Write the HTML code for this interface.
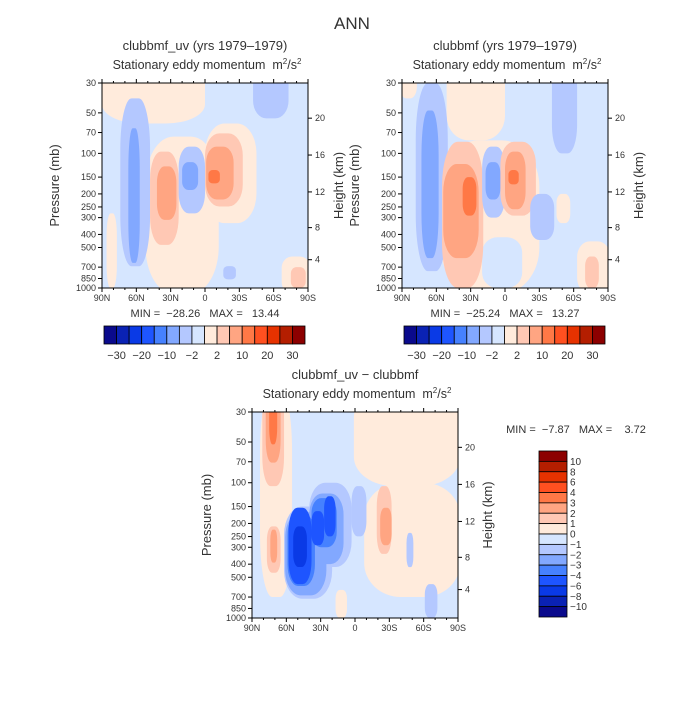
<!DOCTYPE html>
<html><head><meta charset="utf-8">
<style>
body{margin:0;background:#fff;}
svg text{font-family:"Liberation Sans",sans-serif;fill:#333;white-space:pre;}
</style></head>
<body>
<svg id="fig" width="700" height="700" viewBox="0 0 700 700" xmlns="http://www.w3.org/2000/svg">
<rect width="700" height="700" fill="#fff"/>
<text x="352" y="29" font-size="17" text-anchor="middle">ANN</text>
</svg>
<script>
const colors=["#0a0a8c","#0a22b4","#0a3ae6","#1e55ff","#4681ff","#82a8ff","#b4c8ff","#d6e6ff","#ffebdc","#ffc8b4","#ffa582","#ff7846","#ff5020","#e63200","#b41e00","#8c0000"];
const latTicks=[90,60,30,0,-30,-60,-90];
const latLabels=["90N","60N","30N","0","30S","60S","90S"];
const pTicks=[30,50,70,100,150,200,250,300,400,500,700,850,1000];
const kmTicks=[4,8,12,16,20];
const cbLabelsH=["-30","-20","-10","-2","2","10","20","30"];
const cbLabelsV=["10","8","6","4","3","2","1","0","-1","-2","-3","-4","-6","-8","-10"];
// blobs: [lat1, lat2, pTop, pBottom, level]
const blobs1=[[90,0,20,60,8],[52,-12,75,1100,8],[0,-45,60,330,8],[86,77,279,1000,8],[74,48,39,690,6],[67,57,65,650,5],[48,23,97,478,9],[42,25,125,312,10],[23,0,89,279,6],[20,6,116,187,5],[0,-33,71,248,9],[-1,-25,89,220,10],[-3,-13,133,167,11],[-42,-73,20,55,6],[-67,-92,583,1100,8],[-75,-88,700,1000,9],[-16,-27,688,863,6]];
const blobs2=[[92,77,20,39,8],[51,0,20,80,8],[56,-30,80,1100,8],[20,-15,420,1000,7],[78,50,30,750,6],[73,58,48,600,5],[55,19,82,1000,9],[54,23,120,600,10],[37,25,150,290,11],[20,0,89,300,6],[17,4,116,220,5],[4,-27,82,290,9],[0,-18,97,260,10],[-3,-12,133,170,11],[-41,-63,20,100,6],[-22,-43,200,440,6],[-63,-92,450,1100,8],[-70,-82,583,1000,9],[-45,-57,200,330,8]];
const blobs3=[[1,-92,20,106,8],[-8,-92,100,700,8],[83,55,20,700,8],[81,62,20,106,9],[78,65,20,71,10],[75,68,20,52,11],[77,65,210,463,9],[74,68,222,390,10],[62,20,150,720,6],[40,3,100,420,6],[61,25,165,680,5],[40,10,120,400,5],[59,35,170,580,4],[38,16,130,300,4],[58,38,153,562,3],[38,27,162,290,3],[27,17,126,249,3],[54,42,210,420,2],[-19,-32,106,336,9],[-22,-32,153,290,10],[-45,-51,235,421,6],[-61,-72,562,1000,6],[3,-10,106,249,6],[17,7,619,1000,8]];

const NS="http://www.w3.org/2000/svg";
const svg=document.getElementById('fig');
function mk(tag,attrs,parent){const e=document.createElementNS(NS,tag);for(const k in attrs)e.setAttribute(k,attrs[k]);(parent||svg).appendChild(e);return e;}
function txt(x,y,s,size,anchor,parent){const t=mk('text',{x:x,y:y,'font-size':size,'text-anchor':anchor||'middle'},parent);t.textContent=s;return t;}
function kmToP(z){const m=z*1000;if(m<=11000)return 1013.25*Math.pow(1-2.25577e-5*m,5.25588);return 226.32*Math.exp(-(m-11000)/6341.6);}

function panel(id,L,T,W,H,blobs,t1,mm,pLabelX,hLabelX){
  const g=mk('g',{});
  
  
  const xs=lat=>L+(90-lat)/180*W;
  const ys=p=>T+Math.log(p/30)/Math.log(1000/30)*H;
  const cp=mk('clipPath',{id:id+'-clip'},g);
  mk('rect',{x:L,y:T,width:W,height:H},cp);
  const f=mk('g',{'clip-path':'url(#'+id+'-clip)'},g);
  
  
  mk('rect',{x:L,y:T,width:W,height:H,fill:colors[7]},f);
  blobs.forEach(b=>{
    const x1=Math.min(xs(b[0]),xs(b[1])),x2=Math.max(xs(b[0]),xs(b[1])),y1=ys(b[2]),y2=ys(b[3]);
    const w=x2-x1,h=y2-y1;
    const e=mk('rect',{x:x1,y:y1,width:w,height:h,rx:w*0.38,ry:h*0.3,fill:colors[b[4]]},f);
    
    
  });
  mk('rect',{x:L,y:T,width:W,height:H,fill:'none',stroke:'#000','stroke-width':1},g);
  const ax=mk('g',{stroke:'#000','stroke-width':1},g);
  for(let lat=90;lat>=-90;lat-=10){const x=xs(lat);const major=lat%30===0;
    mk('line',{x1:x,y1:T+H,x2:x,y2:T+H+(major?4:2)},ax);
    mk('line',{x1:x,y1:T,x2:x,y2:T-(major?4:2)},ax);}
  latTicks.forEach((lat,i)=>{const t=txt(xs(lat),T+H+13,latLabels[i],9,'middle',g);
    });
  pTicks.forEach(p=>{const y=ys(p);mk('line',{x1:L-4,y1:y,x2:L,y2:y},ax);
    const t=txt(L-6,y+3,String(p),9,'end',g);
    });
  kmTicks.forEach(z=>{const y=ys(kmToP(z));mk('line',{x1:L+W,y1:y,x2:L+W+4,y2:y},ax);
    const t=txt(L+W+7,y+3,String(z),9,'start',g);
    });
  const a=txt(L+W/2,T-33,t1,13,'middle',g);
  
  const b=mk('text',{x:L+W/2+2,y:T-14,'font-size':12.5,'text-anchor':'middle'},g);
  b.innerHTML='Stationary eddy momentum  m<tspan dy="-5" font-size="8">2</tspan><tspan dy="5">/s</tspan><tspan dy="-5" font-size="8">2</tspan>';
  
  const pl=txt(0,0,'Pressure (mb)',13,'middle',g);
  pl.setAttribute('transform','translate('+pLabelX+','+(T+H/2)+') rotate(-90)');
  
  const hl=txt(0,0,'Height (km)',13,'middle',g);
  hl.setAttribute('transform','translate('+hLabelX+','+(T+H/2)+') rotate(-90)');
  
  if(mm){const m=txt(L+W/2,T+H+29,mm,11,'middle',g);
    }
}
function hbar(id,L,T,W,H){
  const g=mk('g',{});
  
  
  const bw=W/colors.length;
  colors.forEach((c,i)=>{const r=mk('rect',{x:L+i*bw,y:T,width:bw,height:H,fill:c,stroke:'#000','stroke-width':0.8},g);
    });
  cbLabelsH.forEach((s,i)=>{const t=txt(L+(2*i+1)*bw,T+H+15,s.replace('-','\u2212'),11,'middle',g);
    });
}
function vbar(id,L,T,W,H){
  const g=mk('g',{});
  
  
  const bh=H/colors.length;
  colors.slice().reverse().forEach((c,i)=>{const r=mk('rect',{x:L,y:T+i*bh,width:W,height:bh,fill:c,stroke:'#000','stroke-width':0.8},g);
    });
  cbLabelsV.forEach((s,i)=>{const t=txt(L+W+3,T+(i+1)*bh+3.5,s.replace('-','\u2212'),10,'start',g);
    });
}
panel('panel-clubbmf-uv',102,83,206,205,blobs1,'clubbmf_uv (yrs 1979\u20131979)','MIN =  \u221228.26   MAX =   13.44',59,343);
panel('panel-clubbmf',402,83,206,205,blobs2,'clubbmf (yrs 1979\u20131979)','MIN =  \u221225.24   MAX =   13.27',359,643);
panel('panel-difference',252,412,206,206,blobs3,'clubbmf_uv \u2212 clubbmf',null,211,492);
hbar('colorbar-1',104,326,201,18);
hbar('colorbar-2',404,326,201,18);
vbar('colorbar-3',539,451,28,166);
const mm3=txt(576,433,'MIN =  \u22127.87   MAX =    3.72',11,'middle');


</script>
</body></html>
